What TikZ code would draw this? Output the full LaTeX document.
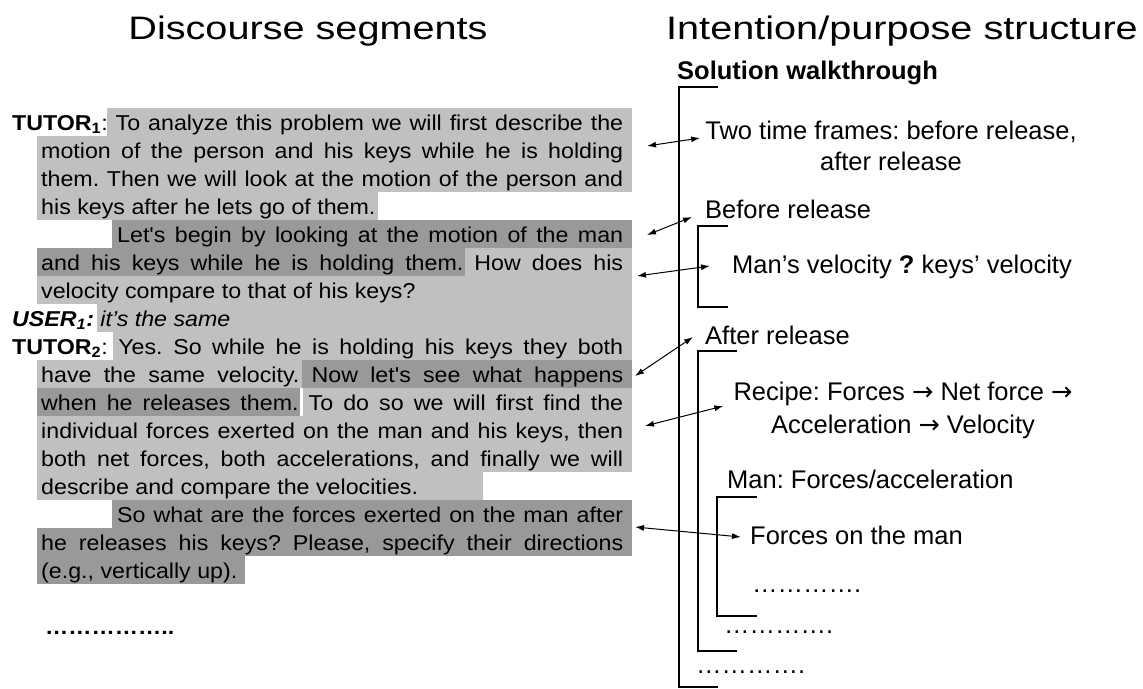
\documentclass[tikz,border=0pt]{standalone}
\usepackage{graphicx}
\usepackage{fontspec}
\setmainfont{Liberation Sans}
\newfontfamily\arrowfont{DejaVu Sans}
\usetikzlibrary{arrows.meta,positioning}
\definecolor{segLight}{HTML}{C0C0C0}
\definecolor{segDark}{HTML}{999999}
\tikzstyle{seg} = [inner sep=0pt, anchor=base west, font=\fontsize{21.5}{28}\selectfont]
\tikzstyle{goal} = [inner sep=0pt, anchor=base west, font=\fontsize{25.5}{31}\selectfont]
\tikzstyle{heading} = [inner sep=0pt, anchor=base, font=\fontsize{32.5}{40}\selectfont]
\tikzstyle{light} = [fill=segLight]
\tikzstyle{dark} = [fill=segDark]
\tikzstyle{link} = [<->, line width=1pt]
\tikzstyle{bracket} = [line width=1.2pt]
\newcommand{\wide}[1]{\scalebox{1.22}[1]{#1}}
\newcommand{\segw}[1]{\scalebox{1.08}[1]{#1}}
\newcommand{\justline}[2]{\segw{\makebox[\dimexpr #1*100/108\relax][s]{#2}}}
\newcommand{\goesto}{{\arrowfont →}}
\frenchspacing

\begin{document}
\begin{tikzpicture}[x=1pt, y=-1pt, >={Latex[length=9pt,width=6pt]}]
\useasboundingbox (0,0) rectangle (1143,688);

\fill [light] (107,108) rectangle (632,136);
\fill [light] (37,136) rectangle (632,192);
\fill [light] (37,192) rectangle (378,220);
\fill [dark] (112,220) rectangle (632,248);
\fill [dark] (37,248) rectangle (465,276);
\fill [light] (465,248) rectangle (632,276);
\fill [light] (37,276) rectangle (632,304);
\fill [light] (97,304) rectangle (632,332);
\fill [light] (113,332) rectangle (632,360);
\fill [light] (37,360) rectangle (302,388);
\fill [dark] (302,360) rectangle (632,388);
\fill [dark] (37,388) rectangle (300,416);
\fill [light] (303,388) rectangle (632,416);
\fill [light] (37,416) rectangle (632,472);
\fill [light] (37,472) rectangle (483,500);
\fill [dark] (112,500) rectangle (632,528);
\fill [dark] (37,528) rectangle (632,556);
\fill [dark] (37,556) rectangle (245,584);

\node [heading] (segtitle) at (308,39) {\wide{Discourse segments}};
\node [heading] (purtitle) at (902,39) {\wide{Intention/purpose structure}};

\node [seg] (t1) at (12,130) {\justline{611pt}{\textbf{TUTOR\textsubscript{1}}: To analyze this problem we will first describe the}};
\node [seg] (t2) at (41,158) {\justline{582pt}{motion of the person and his keys while he is holding}};
\node [seg] (t3) at (41,186) {\justline{582pt}{them. Then we will look at the motion of the person and}};
\node [seg] (t4) at (41,214) {\segw{his keys after he lets go of them.}};
\node [seg] (t5) at (117,242) {\justline{506pt}{Let\textquotesingle s begin by looking at the motion of the man}};
\node [seg] (t6) at (41,270) {\justline{582pt}{and his keys while he is holding them. How does his}};
\node [seg] (t7) at (41,298) {\segw{velocity compare to that of his keys?}};
\node [seg] (t8) at (12,326) {\segw{\textbf{\textit{USER\textsubscript{1}:}} \textit{it’s the same}}};
\node [seg] (t9) at (12,354) {\justline{611pt}{\textbf{TUTOR\textsubscript{2}}: Yes. So while he is holding his keys they both}};
\node [seg] (t10) at (41,382) {\justline{582pt}{have the same velocity. Now let\textquotesingle s see what happens}};
\node [seg] (t11) at (41,410) {\justline{582pt}{when he releases them. To do so we will first find the}};
\node [seg] (t12) at (41,438) {\justline{582pt}{individual forces exerted on the man and his keys, then}};
\node [seg] (t13) at (41,466) {\justline{582pt}{both net forces, both accelerations, and finally we will}};
\node [seg] (t14) at (41,494) {\segw{describe and compare the velocities.}};
\node [seg] (t15) at (117,522) {\justline{506pt}{So what are the forces exerted on the man after}};
\node [seg] (t16) at (41,550) {\justline{582pt}{he releases his keys? Please, specify their directions}};
\node [seg] (t17) at (41,578) {\segw{(e.g., vertically up).}};
\node [seg] (tmore) at (45,634) {\segw{\textbf{……………..}}};

\node [goal] (walk) at (677,79) {\textbf{Solution walkthrough}};
\node [goal, anchor=north, align=center] (frames) at (891,120.5) {Two time frames: before release,\\after release};
\node [goal] (before) at (705,218) {Before release};
\node [goal] (mvel) at (732,273) {Man’s velocity \textbf{?} keys’ velocity};
\node [goal] (after) at (705,344) {After release};
\node [goal, anchor=north, align=center, font=\fontsize{25.5}{33}\selectfont] (recipe) at (903,381.5) {Recipe: Forces \goesto{} Net force \goesto\\Acceleration \goesto{} Velocity};
\node [goal] (manforce) at (727,488) {Man: Forces/acceleration};
\node [goal] (fman) at (750,544) {Forces on the man};
\node [goal] (dots1) at (752,592) {………….};
\node [goal] (dots2) at (724,633) {………….};
\node [goal] (dots3) at (696,673) {………….};

\draw [bracket] (718,87) -- (679,87) -- (679,687) -- (718,687);
\draw [bracket] (728,226) -- (698,226) -- (698,307) -- (728,307);
\draw [bracket] (737,351) -- (698,351) -- (698,651) -- (737,651);
\draw [bracket] (757,497) -- (717,497) -- (717,616) -- (757,616);

\coordinate (s1) at (647,146);
\coordinate (s2) at (647,235);
\coordinate (s3) at (637,276);
\coordinate (s4) at (635,376);
\coordinate (s5) at (645,426);
\coordinate (s6) at (635,527);

\draw [link] (s1) -- ([xshift=-5pt,yshift=-17.5pt]frames.north west);
\draw [link] (s2) -- ([xshift=-13pt,yshift=1pt]before.base west);
\draw [link] (s3) -- ([xshift=-22pt,yshift=7pt]mvel.base west);
\draw [link] (s4) -- ([xshift=-12pt,yshift=7pt]after.base west);
\draw [link] (s5) -- ([xshift=-10pt,yshift=-24.5pt]recipe.north west);
\draw [link] (s6) -- ([xshift=-9pt,yshift=7pt]fman.base west);
\end{tikzpicture}
\end{document}
